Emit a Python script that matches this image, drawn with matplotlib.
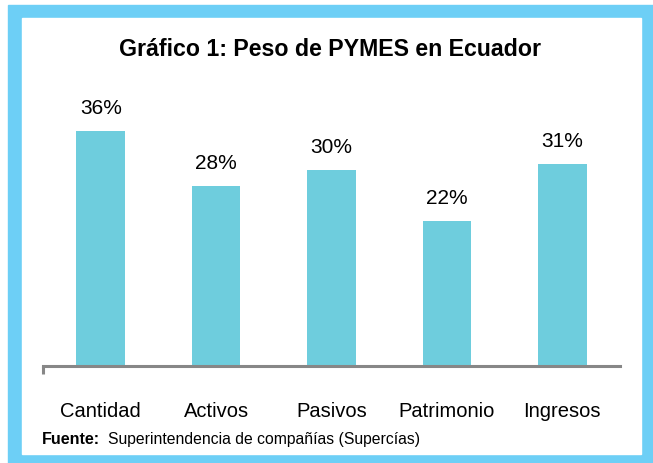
import matplotlib
matplotlib.use("Agg")
import matplotlib.pyplot as plt
from matplotlib.patches import Rectangle
import numpy as np

categorias = ["Cantidad", "Activos", "Pasivos", "Patrimonio", "Ingresos"]
pesos = [0.36, 0.276, 0.30, 0.222, 0.31]
titulo = "Gráfico 1: Peso de PYMES en Ecuador"
fuente = "Superintendencia de compañías (Supercías)"

plt.rcParams['font.family'] = ['Liberation Sans Narrow', 'Liberation Sans', 'DejaVu Sans']

W, H = 653, 464
fig = plt.figure(figsize=(W / 100, H / 100), dpi=100)

# marco azul con interior blanco
fig.patches.append(Rectangle((8 / W, 0), 1 - 8 / W, (H - 6) / H,
                             transform=fig.transFigure, color="#6dcff6", zorder=-2))
fig.patches.append(Rectangle((22 / W, 9 / H), (641 - 22) / W, (455 - 19) / H,
                             transform=fig.transFigure, color="white", zorder=-1))

ax = fig.add_axes([43 / W, (H - 367) / H, 577 / W, 261 / H])
ax.set_zorder(5)
ax.patch.set_alpha(0)
x = np.arange(len(categorias))
barras = ax.bar(x, pesos, width=0.42, color="#6ecddd")
ax.set_xlim(-0.5, len(categorias) - 0.5)
ax.set_ylim(0, 0.40)

for b, v in zip(barras, pesos):
    ax.annotate(f"{v:.0%}", (b.get_x() + b.get_width() / 2, v),
                xytext=(0, 10), textcoords="offset points",
                ha="center", va="bottom", fontsize=15)

for s in ["top", "right", "left"]:
    ax.spines[s].set_visible(False)
ax.spines["bottom"].set_color("#878787")
ax.spines["bottom"].set_linewidth(2.2)
ax.set_yticks([])

ax.set_xticks([-0.5])
ax.set_xticklabels([""])
ax.tick_params(axis="x", which="major", length=6, width=2.2, color="#878787")
ax.set_xticks(x, minor=True)
ax.set_xticklabels(categorias, minor=True, fontsize=14.5)
ax.tick_params(axis="x", which="minor", length=0, pad=25)

fig.text(330 / W, (H - 50) / H, titulo, ha="center", va="center",
         fontsize=16.7, fontweight="bold", zorder=6)
fig.text(42 / W, (H - 440) / H, "Fuente:", ha="left", va="center",
         fontsize=11.5, fontweight="bold", zorder=6)
fig.text(108 / W, (H - 440) / H, fuente, ha="left", va="center", fontsize=11.3,
         zorder=6)

fig.savefig("out.png", dpi=100)
